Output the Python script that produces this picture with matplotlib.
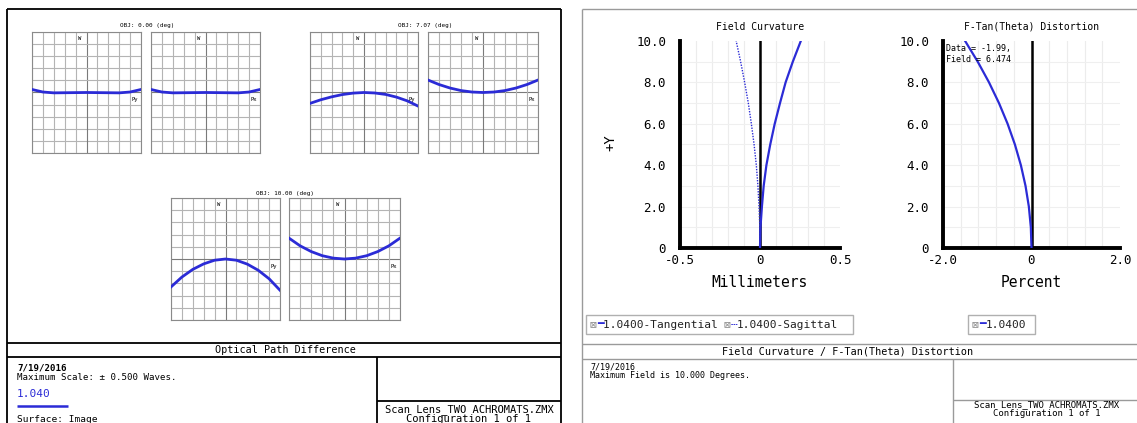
import matplotlib
matplotlib.use("Agg")
import matplotlib.pyplot as plt
import numpy as np

W, H = 1137, 423
MONO = ["DejaVu Sans Mono", "DejaVu Sans"]
BLUE = "#2b2bd6"

# OPD fans: pupil coordinate vs wavefront error (waves)
pupil = [-1.0, -0.8, -0.6, -0.4, -0.2, 0.0, 0.2, 0.4, 0.6, 0.8, 1.0]
opd_titles = ["OBJ: 0.00 (deg)", "OBJ: 7.07 (deg)", "OBJ: 10.00 (deg)"]
opd_py_0 = [0.025, 0.004, -0.003, -0.002, -0.001, 0.0, -0.001, -0.002, -0.003, 0.004, 0.025]
opd_px_0 = [0.025, 0.004, -0.003, -0.002, -0.001, 0.0, -0.001, -0.002, -0.003, 0.004, 0.025]
opd_py_7 = [-0.090, -0.060, -0.036, -0.017, -0.005, 0.0, -0.004, -0.016, -0.038, -0.069, -0.112]
opd_px_7 = [0.103, 0.066, 0.037, 0.016, 0.004, 0.0, 0.004, 0.016, 0.037, 0.066, 0.103]
opd_py_10 = [-0.229, -0.148, -0.085, -0.040, -0.010, 0.0, -0.010, -0.042, -0.092, -0.162, -0.256]
opd_px_10 = [0.171, 0.108, 0.061, 0.027, 0.007, 0.0, 0.007, 0.027, 0.061, 0.108, 0.171]

# field curvature (mm) and distortion (%) vs field (deg)
field_deg = [0, 1, 2, 3, 4, 5, 6, 7, 8, 9, 10]
tangential = [0, 0.003, 0.012, 0.023, 0.040, 0.064, 0.092, 0.125, 0.160, 0.205, 0.255]
sagittal = [0, -0.001, -0.006, -0.013, -0.023, -0.037, -0.054, -0.073, -0.096, -0.121, -0.149]
distortion = [0, -0.015, -0.06, -0.135, -0.24, -0.375, -0.54, -0.735, -0.96, -1.215, -1.50]

yticks = [0, 2, 4, 6, 8, 10]
ytick_labels = ["0", "2.0", "4.0", "6.0", "8.0", "10.0"]


def rect(x0, y0, x1, y1):
    return [x0 / W, 1 - y1 / H, (x1 - x0) / W, (y1 - y0) / H]


fig = plt.figure(figsize=(W / 100, H / 100), dpi=100)

# page overlay in pixel coordinates (frames and text blocks)
pg = fig.add_axes([0, 0, 1, 1])
pg.set_xlim(0, W)
pg.set_ylim(H, 0)
pg.axis("off")


def hline(y, x0, x1, c="black", lw=1.3):
    pg.plot([x0, x1], [y, y], color=c, lw=lw, solid_capstyle="butt")


def vline(x, y0, y1, c="black", lw=1.3):
    pg.plot([x, x], [y0, y1], color=c, lw=lw, solid_capstyle="butt")


def txt(x, y, s, size=7, c="black", ha="left", **kw):
    pg.text(x, y, s, fontsize=size, color=c, ha=ha, va="center", family=MONO, **kw)


# left panel frame
hline(9, 7, 561)
vline(7, 9, H)
vline(561, 9, H)
hline(343, 7, 561)
hline(357, 7, 561)
vline(377, 357, H)
hline(401, 377, 561)
txt(285, 350, "Optical Path Difference", 7.3, ha="center")
txt(17, 368, "7/19/2016", 6.6, weight="bold")
txt(17, 377.5, "Maximum Scale: \u00b1 0.500 Waves.", 6.6)
txt(17, 394, "1.040", 8, c=BLUE)
hline(406, 17, 68, c=BLUE, lw=1.8)
txt(17, 419, "Surface: Image", 6.8)
txt(469, 410, "Scan Lens_TWO ACHROMATS.ZMX", 7.5, ha="center")
txt(469, 419, "Configuration 1 of 1", 7.5, ha="center")

# right panel frame
GR = "#9a9a9a"
hline(9, 582, W, c=GR, lw=1)
vline(582, 9, H, c=GR, lw=1)
hline(344, 582, W, c=GR, lw=1)
hline(359, 582, W, c=GR, lw=1)
vline(953, 359, H, c=GR, lw=1)
hline(400, 953, W, c=GR, lw=1)
txt(848, 352, "Field Curvature / F-Tan(Theta) Distortion", 7.3, ha="center")
txt(590, 367, "7/19/2016", 6.0)
txt(590, 375.5, "Maximum Field is 10.000 Degrees.", 6.0)
txt(1047, 405, "Scan Lens_TWO ACHROMATS.ZMX", 6.5, ha="center")
txt(1047, 413.5, "Configuration 1 of 1", 6.5, ha="center")

# legend boxes
pg.add_patch(plt.Rectangle((586, 315), 267, 19, fill=False, ec="#b0b0b0", lw=1))
pg.add_patch(plt.Rectangle((968, 315), 67, 19, fill=False, ec="#b0b0b0", lw=1))
cw = 0.602 * 8 * 100 / 72
lx = 590
for s, c in [("\u22a0", "#888888"), ("\u2501", BLUE), ("1.0400-Tangential ", "#222222"),
             ("\u22a0", "#888888"), ("\u2504", BLUE), ("1.0400-Sagittal", "#222222")]:
    txt(lx, 324.5, s, 8, c=c)
    lx += cw * len(s)
lx = 972
for s, c in [("\u22a0", "#888888"), ("\u2501", BLUE), ("1.0400", "#222222")]:
    txt(lx, 324.5, s, 8, c=c)
    lx += cw * len(s)


def opd_axes(box, values, axis_lbl):
    ax = fig.add_axes(rect(*box))
    ax.set_xlim(-1, 1)
    ax.set_ylim(-0.5, 0.5)
    g = np.linspace(-1, 1, 11)
    for v in g:
        c = "#7a7a7a" if abs(v) < 1e-9 else "#b4b4b4"
        ax.axvline(v, color=c, lw=0.8, zorder=0)
        ax.axhline(v / 2, color=c, lw=0.8, zorder=0)
    ax.plot(pupil, values, color=BLUE, lw=2, zorder=3)
    ax.text(-0.12, 0.47, "W", fontsize=4, ha="center", va="top", family=MONO)
    ax.text(0.95, -0.04, axis_lbl, fontsize=4, ha="right", va="top", family=MONO)
    ax.set_xticks([])
    ax.set_yticks([])
    for sp in ax.spines.values():
        sp.set_color("#8a8a8a")
        sp.set_linewidth(0.8)
    return ax


opd_axes((32, 32, 141, 153), opd_py_0, "Py")
opd_axes((151, 32, 260, 153), opd_px_0, "Px")
opd_axes((310, 32, 418, 153), opd_py_7, "Py")
opd_axes((428, 32, 538, 153), opd_px_7, "Px")
opd_axes((171, 198, 280, 320), opd_py_10, "Py")
opd_axes((289, 198, 400, 320), opd_px_10, "Px")
txt(147, 26, opd_titles[0], 4.3, ha="center")
txt(425, 26, opd_titles[1], 4.3, ha="center")
txt(285, 194, opd_titles[2], 4.3, ha="center")


def field_axes(box, xlim, xticks, xlabels, xgrid, xlabel, title):
    ax = fig.add_axes(rect(*box))
    ax.set_xlim(*xlim)
    ax.set_ylim(0, 10)
    for v in xgrid:
        ax.axvline(v, color="#ececec", lw=0.8, zorder=0)
    for v in range(1, 10):
        ax.axhline(v, color="#efefef", lw=0.8, zorder=0)
    ax.axvline(0, color="black", lw=1.8, zorder=2)
    ax.spines["top"].set_visible(False)
    ax.spines["right"].set_visible(False)
    ax.spines["left"].set_linewidth(2.8)
    ax.spines["bottom"].set_linewidth(2.8)
    ax.set_xticks(xticks)
    ax.set_xticklabels(xlabels, family=MONO, fontsize=9)
    ax.set_yticks(yticks)
    ax.set_yticklabels(ytick_labels, family=MONO, fontsize=9)
    ax.tick_params(length=0, pad=4)
    ax.tick_params(axis="y", pad=10)
    ax.set_xlabel(xlabel, family=MONO, fontsize=10.5, labelpad=6)
    ax.set_title(title, family=MONO, fontsize=7, pad=8)
    return ax


ax1 = field_axes((680, 41, 840, 248), (-0.5, 0.5), [-0.5, 0, 0.5], ["-0.5", "0", "0.5"],
                 np.linspace(-0.4, 0.4, 9), "Millimeters", "Field Curvature")
ax1.plot(tangential, field_deg, color=BLUE, lw=1.6, zorder=3)
ax1.plot(sagittal, field_deg, color=BLUE, lw=1.0, ls=(0, (1, 1)), zorder=3)
txt(610, 143, "+Y", 10, ha="center", rotation=90)

ax2 = field_axes((943, 41, 1120, 248), (-2, 2), [-2, 0, 2], ["-2.0", "0", "2.0"],
                 np.linspace(-1.6, 1.6, 9), "Percent", "F-Tan(Theta) Distortion")
ax2.plot(distortion, field_deg, color=BLUE, lw=1.6, zorder=3)
ax2.text(-1.93, 9.85, "Data = -1.99,\nField = 6.474", family=MONO, fontsize=6,
         va="top", ha="left", linespacing=1.3, zorder=4)

fig.savefig("out.png", dpi=100)
